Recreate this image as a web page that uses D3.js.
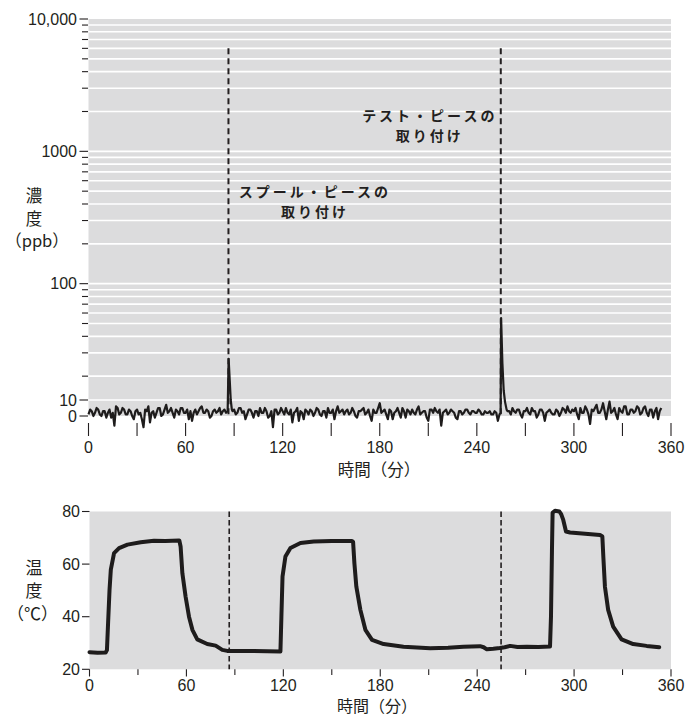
<!DOCTYPE html>
<html>
<head>
<meta charset="utf-8">
<script src="https://cdn.jsdelivr.net/npm/d3@7"></script>
<style>
  body { margin: 0; background: #fff; }
  svg text { font-family: "Liberation Sans", Arial, sans-serif; fill: #231f20; }
  svg text.jp { font-family: "Noto Sans CJK JP", sans-serif; }
</style>
</head>
<body>
<svg id="chart" width="687" height="717"></svg>
<script>
// concentration (ppb), one reading per minute from t = 0; null where the spikes take over
const concStep = 1;
const concValues = [
  1, 4, 3, 0, 2, 5, 4, 1, 0, 3, 3, -1, 2, 4, -1, 2, -6, 6, 5, 1,
  2, 5, 4, 1, 1, 4, 3, 0, -2, 3, 4, 1, 2, -2, -7, 4, 3, 6, -4, 2,
  3, -1, 2, 5, 5, 0, 1, 4, 7, 2, 3, 5, 2, -1, 4, 3, 1, 5, 5, 2,
  2, 4, -2, 3, -3, 2, 4, 1, 3, 5, 6, 2, 2, 4, 3, -1, 0, 3, 4, 2,
  3, 5, 1, 3, 4, 2, null, null, null, 3, 4, 1, 2, 5, 5, 2, 3, -2, 1, 4,
  4, 2, -1, 3, 3, 0, 5, 2, 2, 5, 3, -1, 0, 3, -7, 4, 4, 1, 2, 5,
  3, 1, 5, 2, 1, 4, -4, 2, 3, 5, -3, 3, 2, -2, 4, 3, 1, 4, 3, 0,
  2, 5, 4, 1, 0, 3, 3, -1, 5, 2, 2, 4, -2, 3, 6, 2, 3, 4, 1, 3,
  4, 1, 2, 5, 3, 0, -1, 3, 3, 4, 5, 1, 2, 4, 0, -3, 4, 2, 2, 5,
  8, 2, 3, 4, 1, -2, 4, 3, -2, 2, 3, 5, 2, -1, 5, 3, -1, 4, 3, 1,
  4, 2, 1, 4, 6, 1, 2, 3, 3, -1, -3, 4, 4, 2, 5, 3, 2, 4, -6, 2,
  3, 4, 1, 2, 4, 3, 2, -1, -2, 3, 3, 1, 2, 4, 4, 2, 1, 3, 3, 2,
  2, 4, 3, 1, 1, 3, 2, 2, 3, 1, 1, 3, 2, -3, 1, null, null, null, null, 3,
  3, 1, 5, 3, 2, 4, 4, 1, -1, 3, 3, 5, 2, 1, 5, 3, 3, -1, 1, 4,
  4, 2, -3, 2, 3, 4, 2, 1, 1, 4, 3, 0, 2, 5, 4, 2, 6, 3, 2, 4,
  3, 5, 1, -2, 5, 2, 2, 6, 4, 1, -5, 4, 3, 5, 7, 2, 2, 4, 8, 3,
  -2, 4, 9, 2, 3, 5, 1, -2, 5, 3, 2, 6, 6, 1, 1, 4, 4, 2, 3, 6,
  5, 1, 2, 5, 6, 2, 0, 4, 4, -1, 3, 5, -2, 3, 5
];
// spikes: [minute, ppb]
const spikeSpool = [[86.0, 3], [86.6, 27], [87.3, 18], [87.9, 10], [88.6, 4]];
const spikeTest = [[254.7, 2], [255.0, 55], [255.8, 25], [256.6, 14], [257.4, 9], [258.4, 4]];

// temperature (°C): [minute, value]
const tempPoints = [
  [0, 26.5], [5, 26.3], [10, 26.4], [10.8, 27.3], [11.5, 37.5], [12.4, 50.2], [13.2, 57.9],
  [15.2, 64.2], [18.3, 66.1], [23.5, 67.4], [31.7, 68.3], [39.9, 68.9], [47, 68.8], [55.6, 69.0],
  [56.4, 66.7], [57.5, 56.5], [59.5, 47.6], [61.6, 40.0], [63.7, 35.0], [66.7, 31.4], [72.9, 29.6],
  [78.1, 29.0], [82.2, 27.4], [85.3, 27.0], [100, 27.0], [110, 26.9], [118.2, 26.8], [118.8, 40],
  [119.5, 55.3], [121.3, 62.9], [124.4, 66.1], [130.6, 68.0], [138.8, 68.6], [150, 68.8],
  [162.5, 68.8], [163.2, 68.4], [164.0, 60.3], [165.2, 51.4], [167.7, 42.6], [170.8, 35.0],
  [174.9, 31.2], [182.1, 29.6], [194.4, 28.6], [210.9, 28.0], [222, 28.2], [231.5, 28.6],
  [241.8, 28.8], [244, 28.4], [246, 27.6], [250, 27.8], [254, 28.1], [257, 28.4], [260.4, 28.9],
  [265, 28.5], [270.7, 28.6], [278, 28.5], [285.1, 28.7], [285.7, 40], [286.3, 65], [286.7, 79.5],
  [288.2, 80.3], [290.9, 80.0], [292, 79], [293.3, 76.8], [295.0, 72.4], [297.5, 72.0], [305, 71.6],
  [316, 71.1], [317.5, 70.5], [318.1, 62.9], [319.1, 51.4], [321.1, 42.6], [324.2, 36.2],
  [329.4, 31.4], [336.6, 29.6], [344.9, 28.9], [352.7, 28.4]
];

const events = [86.5, 254.8];            // spool piece / test piece fitted
const eventLabels = [["スプール・ピースの", "取り付け"], ["テスト・ピースの", "取り付け"]];

const timeMajor = [0, 60, 120, 180, 240, 300, 360];
const timeMinor = [30, 90, 150, 210, 270, 330];
const concMajor = [100, 1000, 10000];
const concMinor = [20, 30, 40, 50, 60, 70, 80, 90, 200, 300, 400, 500, 600, 700, 800, 900,
  2000, 3000, 4000, 5000, 6000, 7000, 8000, 9000];
const concLinear = [0, 10];
const tempTicks = [20, 40, 60, 80];

const svg = d3.select('#chart');
const ink = '#231f20';
const panel = '#dcdcdd';

// stacked label: one <text>, one tspan per line
function stackedText(g, lines, x, y, gap, size, weight, spacing) {
  const t = g.append('text').attr('class', 'jp')
    .attr('text-anchor', 'middle')
    .attr('font-size', size)
    .attr('font-weight', weight || 400)
    .attr('letter-spacing', spacing || 0);
  lines.forEach((s, j) => {
    t.append('tspan')
      .attr('x', Array.isArray(x) ? x[j] : x)
      .attr('y', y + j * gap)
      .attr('dy', '0.35em')
      .text(s);
  });
  return t;
}

// ---------- top panel: concentration ----------
const xTop = d3.scaleLinear().domain([0, 360]).range([88.5, 671]);
const yLog = d3.scaleLog().domain([10, 10000]).range([416, 19]);
const yLin = d3.scaleLinear().domain([0, 10]).range([416, 400]);
const yBridge = d3.scaleLinear().domain([10, 20]).range([400, yLog(20)]);
const yConc = v => v <= 10 ? yLin(v) : v < 20 ? yBridge(v) : yLog(v);

const gTop = svg.append('g');

gTop.append('rect')
  .attr('x', 88.5).attr('y', 19)
  .attr('width', 671 - 88.5).attr('height', 416 - 19)
  .attr('fill', panel);

// white grid lines
const gridVals = concMinor.concat([100, 1000]);
gTop.selectAll('.grid')
  .data(gridVals)
  .join('line')
  .attr('x1', 88.5).attr('x2', 671)
  .attr('y1', d => yLog(d)).attr('y2', d => yLog(d))
  .attr('stroke', '#fff').attr('stroke-width', 1.6);
gTop.append('line')
  .attr('x1', 88.5).attr('x2', 671)
  .attr('y1', yLin(10)).attr('y2', yLin(10))
  .attr('stroke', '#fff').attr('stroke-width', 1.6);

// y ticks
gTop.selectAll('.ymin')
  .data(concMinor)
  .join('line')
  .attr('x1', 82).attr('x2', 88)
  .attr('y1', d => yLog(d)).attr('y2', d => yLog(d))
  .attr('stroke', ink).attr('stroke-width', 1.1);
const majorY = concMajor.map(v => ({ y: yLog(v), label: d3.format(v >= 10000 ? ',' : 'd')(v) }))
  .concat(concLinear.map(v => ({ y: yLin(v), label: String(v) })));
gTop.selectAll('.ymaj')
  .data(majorY)
  .join('line')
  .attr('x1', 79.5).attr('x2', 88)
  .attr('y1', d => d.y).attr('y2', d => d.y)
  .attr('stroke', ink).attr('stroke-width', 1.1);
gTop.selectAll('.ylab')
  .data(majorY)
  .join('text')
  .attr('x', 77).attr('y', d => d.y)
  .attr('dy', '0.36em')
  .attr('text-anchor', 'end')
  .attr('font-size', 16)
  .text(d => d.label);

// x ticks (detached below the panel)
gTop.selectAll('.xt')
  .data(timeMajor.concat(timeMinor))
  .join('line')
  .attr('x1', d => xTop(d)).attr('x2', d => xTop(d))
  .attr('y1', 423).attr('y2', 436)
  .attr('stroke', ink).attr('stroke-width', 1.1);
gTop.selectAll('.xl')
  .data(timeMajor)
  .join('text')
  .attr('x', d => xTop(d)).attr('y', 453.3)
  .attr('text-anchor', 'middle')
  .attr('font-size', 16)
  .text(d => d);

gTop.append('text').attr('class', 'jp')
  .attr('x', 379).attr('y', 470.5)
  .attr('dy', '0.35em')
  .attr('text-anchor', 'middle')
  .attr('font-size', 16.5)
  .text('時間（分）');

// y label
stackedText(gTop, ['濃', '度', '（ppb）'], [34, 34, 37], 196.5, 22.5, 16.5);

// event markers
gTop.selectAll('.ev')
  .data(events)
  .join('line')
  .attr('x1', d => xTop(d)).attr('x2', d => xTop(d))
  .attr('y1', yLog(6000)).attr('y2', 416)
  .attr('stroke', ink).attr('stroke-width', 2)
  .attr('stroke-dasharray', '6,4');

// annotations
const annPos = [{ t: 139, y: 192.5, gap: 19.5 }, { t: 210, y: 116.5, gap: 19.5 }];
eventLabels.forEach((lines, i) => {
  stackedText(gTop, lines, xTop(annPos[i].t) + 1.5, annPos[i].y, annPos[i].gap, 14, 700, 3);
});

// concentration trace
const concPoints = concValues
  .map((v, i) => [i * concStep, v])
  .filter(d => d[1] !== null)
  .concat(spikeSpool, spikeTest)
  .sort((a, b) => a[0] - b[0]);

const concLine = d3.line()
  .x(d => xTop(d[0]))
  .y(d => yConc(d[1]));

gTop.append('path')
  .datum(concPoints)
  .attr('d', concLine)
  .attr('fill', 'none')
  .attr('stroke', '#1e1c1c')
  .attr('stroke-width', 2.2)
  .attr('stroke-linejoin', 'round');

// ---------- bottom panel: temperature ----------
const xBot = d3.scaleLinear().domain([0, 360]).range([89.5, 671]);
const yTemp = d3.scaleLinear().domain([20, 80]).range([669.3, 511.5]);

const gBot = svg.append('g');

gBot.append('rect')
  .attr('x', 89.5).attr('y', yTemp(80))
  .attr('width', 671 - 89.5).attr('height', yTemp(20) - yTemp(80))
  .attr('fill', panel);

gBot.selectAll('.yt')
  .data(tempTicks)
  .join('line')
  .attr('x1', 82).attr('x2', 89.5)
  .attr('y1', d => yTemp(d)).attr('y2', d => yTemp(d))
  .attr('stroke', ink).attr('stroke-width', 1.1);
gBot.selectAll('.yl')
  .data(tempTicks)
  .join('text')
  .attr('x', 80).attr('y', d => yTemp(d))
  .attr('dy', '0.36em')
  .attr('text-anchor', 'end')
  .attr('font-size', 16)
  .text(d => d);

gBot.selectAll('.xt')
  .data(timeMajor.concat(timeMinor))
  .join('line')
  .attr('x1', d => xBot(d)).attr('x2', d => xBot(d))
  .attr('y1', 669.3).attr('y2', d => timeMajor.includes(d) ? 676.5 : 675)
  .attr('stroke', ink).attr('stroke-width', 1.1);
gBot.selectAll('.xl')
  .data(timeMajor)
  .join('text')
  .attr('x', d => xBot(d)).attr('y', 691.3)
  .attr('text-anchor', 'middle')
  .attr('font-size', 16)
  .text(d => d);

gBot.append('text').attr('class', 'jp')
  .attr('x', 377).attr('y', 706.3)
  .attr('dy', '0.35em')
  .attr('text-anchor', 'middle')
  .attr('font-size', 16)
  .text('時間（分）');

stackedText(gBot, ['温', '度', '（℃）'], [34, 34, 32.5], 568, 23, 17);

gBot.selectAll('.ev')
  .data(events)
  .join('line')
  .attr('x1', d => xBot(d)).attr('x2', d => xBot(d))
  .attr('y1', yTemp(80)).attr('y2', yTemp(20))
  .attr('stroke', ink).attr('stroke-width', 1.6)
  .attr('stroke-dasharray', '5.5,3');

const tempLine = d3.line()
  .x(d => xBot(d[0]))
  .y(d => yTemp(d[1]));

gBot.append('path')
  .datum(tempPoints)
  .attr('d', tempLine)
  .attr('fill', 'none')
  .attr('stroke', '#1e1c1c')
  .attr('stroke-width', 4)
  .attr('stroke-linejoin', 'round')
  .attr('stroke-linecap', 'round');
</script>
</body>
</html>
